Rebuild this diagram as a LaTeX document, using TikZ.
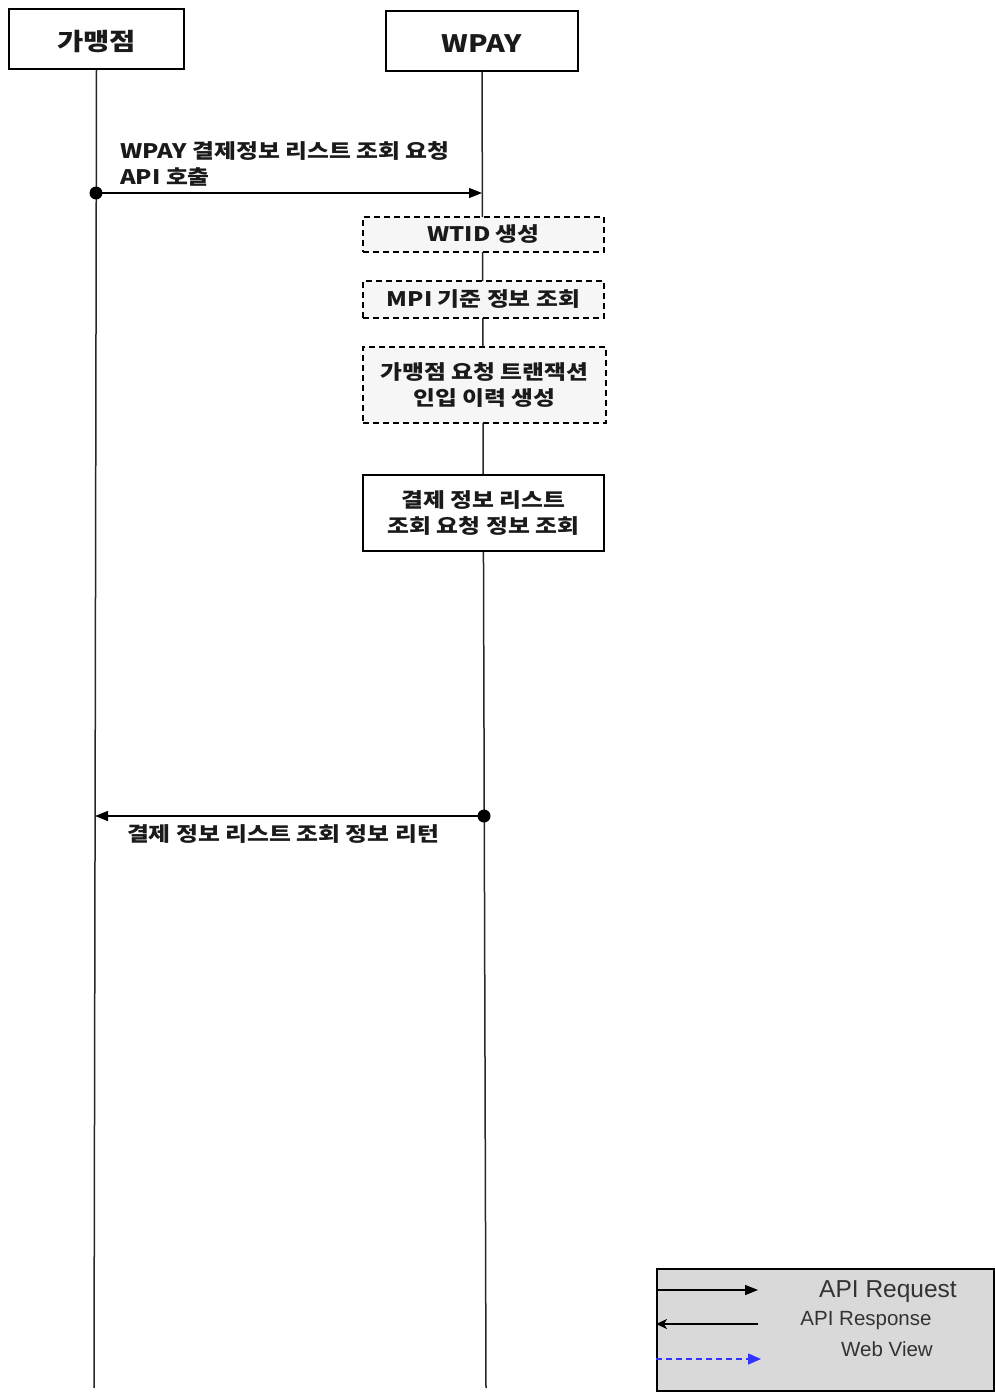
\documentclass[tikz,border=0pt]{standalone}
\usepackage{fontspec}
\setmainfont{Noto Sans CJK KR}[FakeStretch=1.19]
\newfontfamily\legfont{Liberation Sans}
\usetikzlibrary{arrows.meta}
\definecolor{dashfill}{HTML}{F6F6F6}
\definecolor{legfill}{HTML}{D9D9D9}
\definecolor{txt}{HTML}{1A1A1A}
\begin{document}
\begin{tikzpicture}[x=1pt,y=-1pt,
  head/.style={draw,line width=1.6pt,fill=white,minimum height=60pt,inner sep=0pt,
    text height=23pt,text depth=0pt,
    font=\fontsize{24}{28}\selectfont\bfseries,text=txt},
  life/.style={line width=1.5pt,draw=black!85},
  procdash/.style={draw,line width=1.4pt,dash pattern=on 6pt off 4pt,fill=dashfill,
    minimum width=241pt,inner sep=0pt,align=center,
    font=\fontsize{20}{26}\selectfont\bfseries,text=txt},
  procbox/.style={draw,line width=1.6pt,fill=white,
    minimum width=241pt,minimum height=76pt,inner sep=0pt,align=center,
    font=\fontsize{20}{26}\selectfont\bfseries,text=txt},
  msg/.style={line width=1.4pt,-{Triangle[length=13pt,width=10pt]}},
  dot/.style={circle,fill=black,inner sep=0pt,minimum size=13pt},
  lbl/.style={font=\fontsize{20}{26}\selectfont\bfseries,text=txt,inner sep=0pt},
  legtxt/.style={font=\legfont\fontsize{20.5}{24}\selectfont,text=black!80,inner sep=0pt}
]
\useasboundingbox (0,0) rectangle (994,1394);

% lifeline heads
\node[head,minimum width=175pt] (gm) at (96.5,39) {가맹점};
\node[head,minimum width=192pt] (wp) at (482,41) {WPAY};

% lifeline ends
\coordinate (gmEnd) at (94,1388);
\coordinate (wpEnd) at (486,1388);
\draw[life] (gm.south) -- (gmEnd);
\draw[life] (wp.south) -- (wpEnd);

% process boxes on WPAY
\node[procdash,minimum height=35pt] (p1) at (483.5,234.5) {WTID 생성};
\node[procdash,minimum height=37pt] (p2) at (483.5,299.5) {MPI 기준 정보 조회};
\node[procdash,minimum width=243pt,minimum height=76pt] (p3) at (484.5,385) {가맹점 요청 트랜잭션\\인입 이력 생성};
\node[procbox] (p4) at (483.5,513) {결제 정보 리스트\\조회 요청 정보 조회};

% request message
\node[dot] (m1s) at (96,193) {};
\coordinate (m1e) at (482,193);
\draw[msg] (m1s.center) -- (m1e);
\node[lbl,anchor=west,align=left] (m1l) at (120,164) {WPAY 결제정보 리스트 조회 요청\\API 호출};

% response message
\node[dot] (r1s) at (484,816) {};
\coordinate (r1e) at (95,816);
\draw[msg] (r1s.center) -- (r1e);
\node[lbl] (r1l) at (283,834) {결제 정보 리스트 조회 정보 리턴};

% legend
\node[draw,line width=1.6pt,fill=legfill,minimum width=337pt,minimum height=122pt,inner sep=0pt,anchor=north west] (leg) at (656,1268) {};
\coordinate (l1a) at (656,1290);
\coordinate (l1b) at (758,1290);
\coordinate (l2a) at (758,1324);
\coordinate (l2b) at (656,1324);
\coordinate (l3a) at (656,1359);
\coordinate (l3b) at (761,1359);
\draw[line width=1.4pt,-{Triangle[length=13pt,width=10pt]}] (l1a) -- (l1b);
\draw[line width=1.4pt,-{Stealth[length=11pt,width=10pt,inset=3pt]}] (l2a) -- (l2b);
\draw[line width=1.4pt,blue!80,dash pattern=on 6pt off 4pt,-{Triangle[length=13pt,width=11pt]}] (l3a) -- (l3b);
\node[legtxt,font=\legfont\fontsize{24.5}{28}\selectfont] (t1) at (888,1292) {API Request};
\node[legtxt] (t2) at (866,1321) {API Response};
\node[legtxt] (t3) at (887,1349) {Web View};
\end{tikzpicture}
\end{document}
